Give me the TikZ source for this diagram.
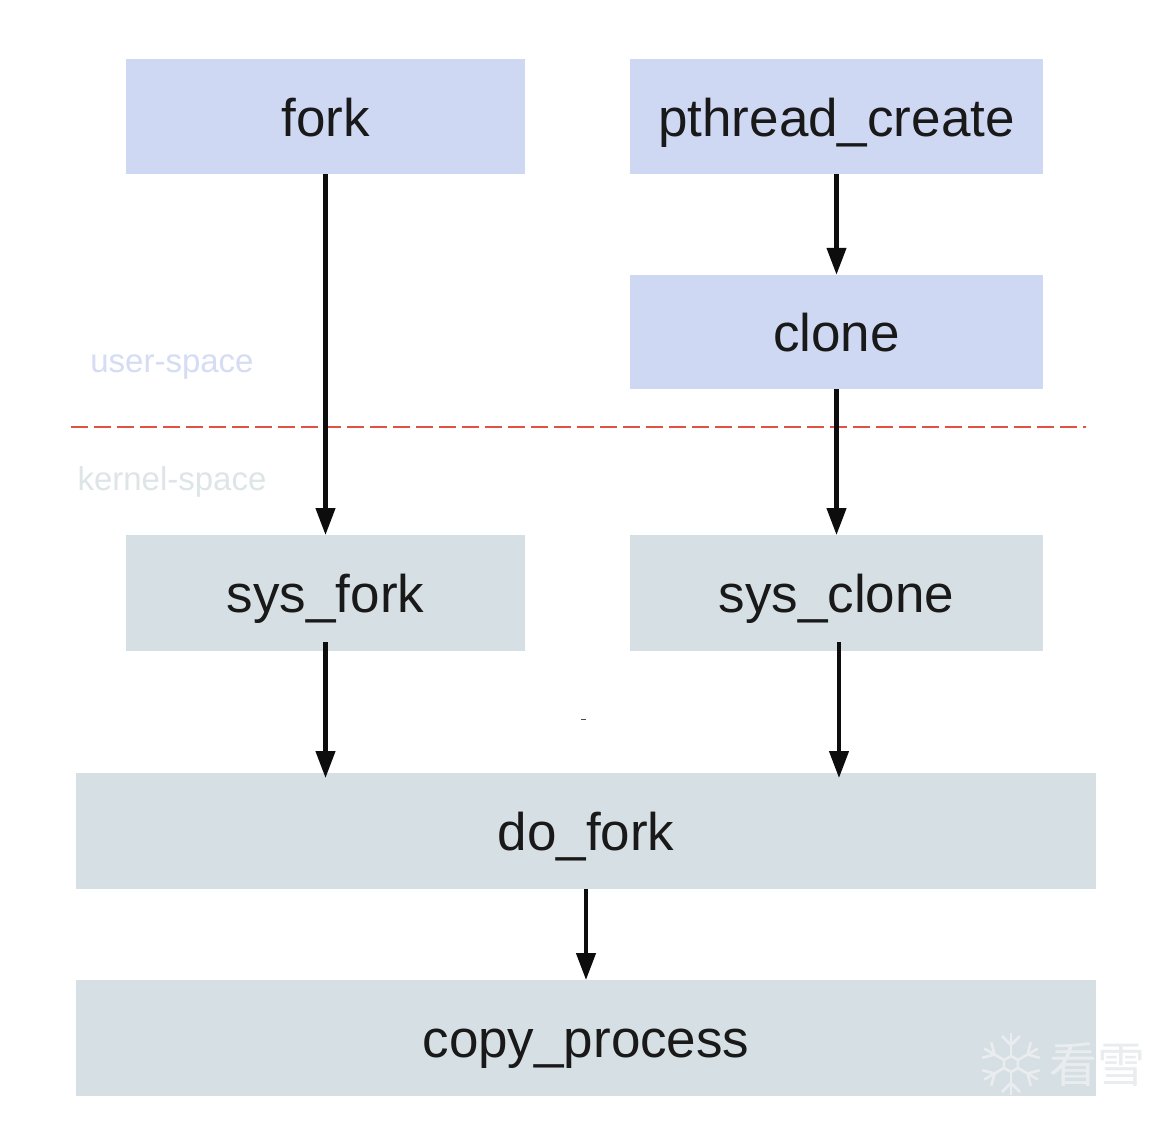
\documentclass[tikz,border=0pt]{standalone}
\usepackage{fontspec}
\setmainfont{Liberation Sans}
\newfontfamily\cjkwm{Noto Sans CJK SC}
\usetikzlibrary{arrows.meta}
\definecolor{userbox}{HTML}{CFD8F3}
\definecolor{kernbox}{HTML}{D6DFE3}
\definecolor{userlab}{HTML}{D5DCF3}
\definecolor{kernlab}{HTML}{DEE5E7}
\definecolor{divider}{HTML}{E05244}
\definecolor{wmark}{HTML}{E9EDEF}
\tikzset{
  x=1pt,y=-1pt,
  box/.style={minimum height=115.5pt,inner sep=0pt,text height=54pt,text depth=15pt,font=\fontsize{53}{60}\selectfont,text=black!90},
  ubox/.style={box,fill=userbox},
  kbox/.style={box,fill=kernbox},
  flow/.style={line width=4.2pt,-{Triangle[length=27pt,width=19pt]},black!95},
  spacelab/.style={inner sep=0pt,font=\fontsize{33}{38}\selectfont},
  wmline/.style={draw=wmark,line width=2.6pt},
}
\begin{document}
\begin{tikzpicture}
\useasboundingbox (0,0) rectangle (1168,1120);
\fill[white] (0,0) rectangle (1168,1120);
% boxes
\node[ubox,minimum width=399pt] (fork) at (325.5,116.5) {fork};
\node[ubox,minimum width=413pt] (pthread) at (836.5,116.5) {pthread\_create};
\node[ubox,minimum width=413pt,minimum height=114pt] (clone) at (836.5,332) {clone};
\node[kbox,minimum width=399pt] (sysfork) at (325.5,593) {sys\_fork};
\node[kbox,minimum width=413pt] (sysclone) at (836.5,593) {sys\_clone};
\node[kbox,minimum width=1020pt] (dofork) at (586,831) {do\_fork};
\node[kbox,minimum width=1020pt] (copy) at (586,1038) {copy\_process};
% labels
\node[spacelab,text=userlab] (ulab) at (172,367) {user-space};
\node[spacelab,text=kernlab] (klab) at (172,482) {kernel-space};
% divider
\coordinate (divl) at (71,427);
\coordinate (divr) at (1086,427);
\draw[divider,line width=2.6pt,dash pattern=on 17pt off 6pt] (divl) -- (divr);
% connectors
\draw[flow] (fork.south) -- (sysfork.north);
\draw[flow] (pthread.south) -- (clone.north);
\draw[flow] (clone.south) -- (sysclone.north);
\draw[flow,shorten <=-9pt,shorten >=-5pt] (sysfork.south) -- (sysfork.south |- dofork.north);
\draw[flow,shorten <=-9pt,shorten >=-5pt] ([xshift=2.5pt]sysclone.south) -- ([xshift=2.5pt]sysclone.south |- dofork.north);
\draw[flow] (dofork.south) -- (copy.north);
% stray speck
\fill[black!70] (581,718.6) rectangle (586,719.8);
% watermark
\begin{scope}[shift={(1011,1064)}]
  \foreach \a in {30,90,...,330}{
    \begin{scope}[rotate=\a]
      \draw[wmline] (8,0) -- (31,0);
      \draw[wmline] (19,0) -- (28,-9);
      \draw[wmline] (19,0) -- (28,9);
    \end{scope}
  }
  \draw[wmline] (30:8) -- (90:8) -- (150:8) -- (210:8) -- (270:8) -- (330:8) -- cycle;
\end{scope}
\node[inner sep=0pt,text=wmark,font=\cjkwm\fontsize{48}{50}\selectfont] (wm) at (1097.5,1064) {看雪};
\end{tikzpicture}
\end{document}
